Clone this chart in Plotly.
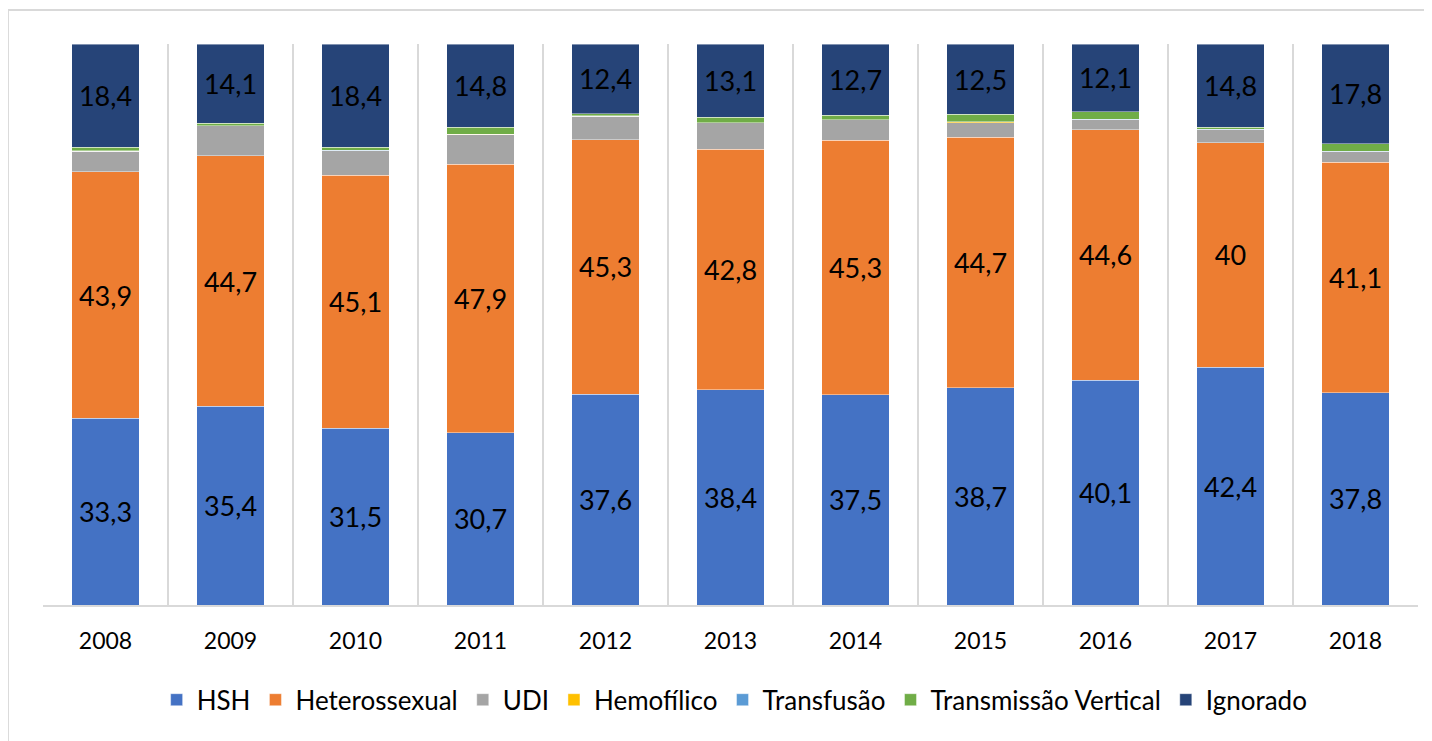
import plotly.graph_objects as go

years = ["2008", "2009", "2010", "2011", "2012", "2013", "2014", "2015", "2016", "2017", "2018"]
hsh = [33.3, 35.4, 31.5, 30.7, 37.6, 38.4, 37.5, 38.7, 40.1, 42.4, 37.8]
hetero = [43.9, 44.7, 45.1, 47.9, 45.3, 42.8, 45.3, 44.7, 44.6, 40.0, 41.1]
udi = [3.7, 5.3, 4.4, 5.2, 4.2, 4.8, 3.7, 2.6, 1.8, 2.3, 1.9]
hemofilico = [0.0, 0.0, 0.0, 0.1, 0.0, 0.0, 0.0, 0.1, 0.0, 0.0, 0.0]
transfusao = [0.1, 0.0, 0.1, 0.0, 0.1, 0.0, 0.0, 0.0, 0.1, 0.1, 0.1]
trans_vertical = [0.6, 0.5, 0.5, 1.3, 0.4, 0.9, 0.8, 1.4, 1.3, 0.4, 1.3]
ignorado = [18.4, 14.1, 18.4, 14.8, 12.4, 13.1, 12.7, 12.5, 12.1, 14.8, 17.8]

series = [
    ("HSH", hsh, "#4472C4", True),
    ("Heterossexual", hetero, "#ED7D31", True),
    ("UDI", udi, "#A5A5A5", False),
    ("Hemofílico", hemofilico, "#FFC000", False),
    ("Transfusão", transfusao, "#5B9BD5", False),
    ("Transmissão Vertical", trans_vertical, "#70AD47", False),
    ("Ignorado", ignorado, "#264478", True),
]

FONT = "Lato"

def fmt(v):
    return f"{v:g}".replace(".", ",")

fig = go.Figure()
for name, vals, color, labeled in series:
    fig.add_trace(go.Bar(
        name=name,
        x=years,
        y=vals,
        marker=dict(color=color, line=dict(color="rgba(255,255,255,0.6)", width=0.7)),
        width=0.54,
        text=[fmt(v) for v in vals] if labeled else None,
        textposition="inside" if labeled else "none",
        insidetextanchor="middle",
        textangle=0,
        textfont=dict(family=FONT, size=27, color="black"),
        hoverinfo="x+y+name",
    ))

# chart box border
shapes = [
    dict(type="rect", xref="paper", yref="paper", x0=-0.0255, x1=1.05, y0=-0.3, y1=1.0606,
         fillcolor="white", line=dict(color="#d9d9d9", width=2), layer="below"),
]

fig.update_layout(
    barmode="stack",
    width=1424,
    height=733,
    margin=dict(l=35, r=14, t=36, b=136),
    paper_bgcolor="white",
    plot_bgcolor="rgba(0,0,0,0)",
    font=dict(family=FONT, size=22, color="black"),
    shapes=shapes,
    showlegend=True,
    legend=dict(
        orientation="h",
        x=0.503, xanchor="center",
        y=-0.169, yanchor="middle",
        font=dict(family=FONT, size=26, color="black"),
        itemwidth=30,
        traceorder="normal",
        bgcolor="rgba(0,0,0,0)",
    ),
    xaxis=dict(
        type="category",
        tickson="boundaries",
        showgrid=True,
        gridcolor="#d9d9d9",
        gridwidth=2,
        showline=True,
        linecolor="#d9d9d9",
        linewidth=2,
        ticks="",
        ticklabelstandoff=14,
        tickfont=dict(family=FONT, size=23, color="black"),
        range=[-0.5, 10.5],
    ),
    yaxis=dict(
        range=[0, 100],
        showgrid=False,
        showticklabels=False,
        zeroline=False,
        showline=False,
        ticks="",
    ),
)

fig.write_html("out.html")
